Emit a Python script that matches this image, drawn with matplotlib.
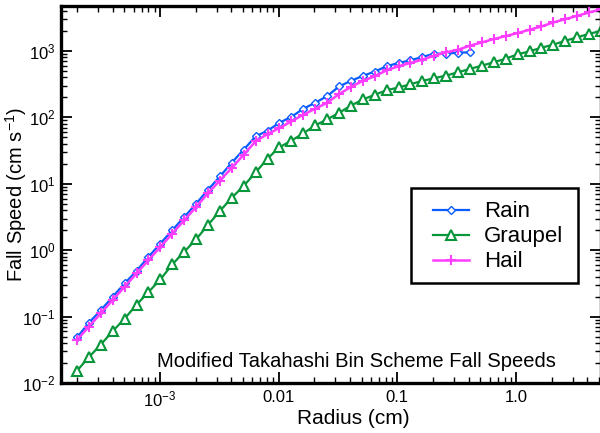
import matplotlib
matplotlib.use("Agg")
import matplotlib.pyplot as plt
from matplotlib.patches import Rectangle
from matplotlib.ticker import FixedLocator, FixedFormatter, LogLocator, NullFormatter

plt.rcParams['font.family'] = ['Liberation Sans', 'DejaVu Sans']
plt.rcParams['mathtext.fontset'] = 'custom'
plt.rcParams['mathtext.rm'] = 'Liberation Sans'
plt.rcParams['mathtext.it'] = 'Liberation Sans:italic'
plt.rcParams['mathtext.bf'] = 'Liberation Sans:bold'

# Bin radii (cm)
radius = [2.000e-4, 2.520e-4, 3.175e-4, 4.000e-4, 5.040e-4, 6.350e-4, 8.000e-4,
          1.008e-3, 1.270e-3, 1.600e-3, 2.016e-3, 2.540e-3, 3.200e-3, 4.032e-3,
          5.080e-3, 6.400e-3, 8.063e-3, 1.016e-2, 1.280e-2, 1.613e-2, 2.032e-2,
          2.560e-2, 3.225e-2, 4.064e-2, 5.120e-2, 6.451e-2, 8.127e-2, 0.1024,
          0.1290, 0.1625, 0.2048, 0.2580, 0.3251, 0.4096, 0.5161, 0.6502,
          0.8192, 1.032, 1.300, 1.638, 2.064, 2.601, 3.277, 4.129, 5.202]

# Fall speeds (cm/s)
rain = [0.0486, 0.0807, 0.125, 0.199, 0.316, 0.489, 0.794, 1.26, 2.00, 3.16,
        5.01, 8.13, 12.9, 20.9, 32.7, 51.9, 63.1, 83.2, 102, 135, 166, 209,
        292, 355, 422, 490, 589, 661, 724, 813, 912, 912, 944, 955]
graupel = [0.0153, 0.0245, 0.0380, 0.0603, 0.0933, 0.151, 0.234, 0.363, 0.610,
           0.944, 1.46, 2.40, 3.89, 6.17, 9.33, 14.8, 24.0, 35.5, 44.7, 57.5,
           75.9, 93.3, 117, 151, 186, 219, 257, 282, 316, 355, 389, 427, 479,
           537, 603, 676, 767, 891, 989, 1122, 1245, 1429, 1603, 1820, 1995]
hail = [0.0444, 0.0708, 0.112, 0.178, 0.282, 0.447, 0.708, 1.12, 1.78, 2.82,
        4.47, 7.24, 11.2, 17.4, 27.5, 43.7, 56.2, 69.2, 87.1, 110, 135, 166,
        224, 288, 355, 417, 513, 589, 661, 741, 851, 955, 1047, 1202, 1349,
        1514, 1679, 1862, 2089, 2344, 2692, 3020, 3388, 3802, 4266]

xticks = [1e-3, 1e-2, 1e-1, 1.0]
xticklabels = ['10$^{-3}$', '0.01', '0.1', '1.0']
yticks = [1e-2, 1e-1, 1e0, 1e1, 1e2, 1e3]
yticklabels = ['10$^{-2}$', '10$^{-1}$', '10$^{0}$', '10$^{1}$', '10$^{2}$', '10$^{3}$']

fig = plt.figure(figsize=(6.0, 4.33), dpi=100)
ax = fig.add_axes([61/600, 50/433, 540/600, 377/433])

c_rain = '#0a5cff'
c_grau = '#08963a'
c_hail = '#ff3dff'

ax.plot(radius[:len(rain)], rain, color=c_rain, lw=1.6, marker='D', ms=4.5,
        mfc='white', mec=c_rain, mew=1.0, label='Rain', zorder=3)
ax.plot(radius[:len(graupel)], graupel, color=c_grau, lw=1.6, marker='^', ms=7,
        mfc='white', mec=c_grau, mew=1.5, label='Graupel', zorder=2)
ax.plot(radius[:len(hail)], hail, color=c_hail, lw=1.8, marker='+', ms=7,
        mec=c_hail, mew=1.5, label='Hail', zorder=4)

ax.set_xscale('log')
ax.set_yscale('log')
ax.set_xlim(1.466e-4, 5.2)
ax.set_ylim(0.01, 4760)

ax.xaxis.set_major_locator(FixedLocator(xticks))
ax.xaxis.set_major_formatter(FixedFormatter(xticklabels))
ax.xaxis.set_minor_locator(LogLocator(base=10, subs=range(2, 10), numticks=20))
ax.xaxis.set_minor_formatter(NullFormatter())
ax.yaxis.set_major_locator(FixedLocator(yticks))
ax.yaxis.set_major_formatter(FixedFormatter(yticklabels))
ax.yaxis.set_minor_locator(LogLocator(base=10, subs=range(2, 10), numticks=20))
ax.yaxis.set_minor_formatter(NullFormatter())

ax.tick_params(which='both', direction='in', top=True, right=True, labelsize=12)
ax.tick_params(which='major', length=8, width=1.3, pad=5)
ax.tick_params(axis='y', which='major', pad=4)
ax.tick_params(which='minor', length=4, width=1.0)
for s in ax.spines.values():
    s.set_linewidth(2.4)

ax.set_xlabel('Radius (cm)', fontsize=15, va='center')
ax.xaxis.set_label_coords(0.541, -0.093)
ax.set_ylabel('Fall Speed (cm s$^{-1}$)', fontsize=14.5, va='center')
ax.yaxis.set_label_coords(-0.0835, 0.5)

ax.text(0.548, 0.0565, 'Modified Takahashi Bin Scheme Fall Speeds',
        transform=ax.transAxes, ha='center', va='center', fontsize=14.5)

# legend frame
frame = Rectangle((0.648, 0.265), 0.309, 0.252, transform=ax.transAxes,
                  facecolor='white', edgecolor='black', lw=1.8, zorder=6)
ax.add_patch(frame)
leg = ax.legend(loc='upper left', bbox_to_anchor=(0.689, 0.482), fontsize=16,
                numpoints=1, handlelength=1.6, handletextpad=0.7,
                borderpad=0, labelspacing=0.18, frameon=False, borderaxespad=0)
leg.set_zorder(7)

fig.savefig('out.png', dpi=100)
